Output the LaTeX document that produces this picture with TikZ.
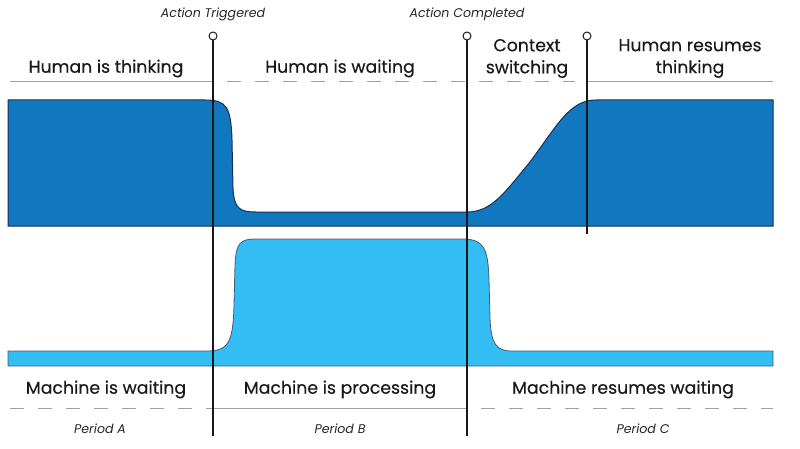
\documentclass[tikz,border=0pt]{standalone}
\usepackage{fontspec}
\setmainfont{Poppins}
\newfontfamily\lblfont{Poppins}[FakeBold=0.3]
\definecolor{darkb}{HTML}{1177BF}
\definecolor{lightb}{HTML}{33BDF2}
\definecolor{edge}{HTML}{1A3050}
\definecolor{guide}{HTML}{A0A0A0}
\begin{document}
\begin{tikzpicture}[x=1pt,y=-1pt,
  lbl/.style={font=\lblfont\fontsize{17.3}{22}\selectfont, text=black!90, align=center, inner sep=0pt},
  evt/.style={font=\fontsize{12.6}{14}\selectfont\itshape, text=black!85, inner sep=0pt},
  per/.style={font=\fontsize{12.6}{14}\selectfont\itshape, text=black!85, inner sep=0pt},
  gsolid/.style={draw=guide, line width=1pt},
  gdash/.style={draw=guide, line width=1pt, dash pattern=on 14pt off 14pt},
  marker/.style={draw=black!90, line width=1.6pt},
  knob/.style={circle, draw=black!90, fill=white, line width=1pt, minimum size=8pt, inner sep=0pt}
]
\useasboundingbox (0,0) rectangle (800,449);
% guide lines
\draw[gsolid] (10,82) -- (213,82);
\draw[gdash] (227,82) -- (575,82);
\draw[gsolid] (587,82) -- (773,82);
\draw[gdash] (10,408) -- (213,408);
\draw[gsolid] (213,408) -- (467,408);
\draw[gdash] (481,408) -- (773,408);
% human curve
\draw[fill=darkb, draw=edge, line width=1pt]
 (8,100) -- (205,100) .. controls (226,100) and (231,106) .. (232,140)
 -- (233,188) .. controls (234,208) and (239,212) .. (256,212)
 -- (467,212) .. controls (492,212) and (505,192) .. (530,162)
 .. controls (558,124) and (570,100) .. (596,100)
 -- (773,100) -- (773,226) -- (8,226) -- cycle;
% machine curve
\draw[fill=lightb, draw=edge!80, line width=0.8pt]
 (8,351) -- (206,351) .. controls (228,351) and (233,344) .. (234,305)
 -- (235,265) .. controls (236,243) and (240,239) .. (256,239)
 -- (462,239) .. controls (484,239) and (488,248) .. (489,280)
 -- (490,318) .. controls (491,344) and (496,351) .. (512,351)
 -- (773,351) -- (773,366) -- (8,366) -- cycle;
% markers
\node[knob] (k1) at (213,36) {};
\node[knob] (k2) at (467,36) {};
\node[knob] (k3) at (587,36) {};
\coordinate (e1) at (213,436);
\coordinate (e2) at (467,436);
\coordinate (e3) at (587,234);
\draw[marker] (k1) -- (e1);
\draw[marker] (k2) -- (e2);
\draw[marker] (k3) -- (e3);
% labels
\node[evt] (t1) at (213,14) {Action Triggered};
\node[evt] (t2) at (467,14) {Action Completed};
\node[lbl] (h1) at (106,68.5) {Human is thinking};
\node[lbl] (h2) at (340,68.5) {Human is waiting};
\node[lbl] (h3) at (527,58.5) {Context\\switching};
\node[lbl] (h4) at (690,58.5) {Human resumes\\thinking};
\node[lbl] (m1) at (106,389.5) {Machine is waiting};
\node[lbl] (m2) at (340,389.5) {Machine is processing};
\node[lbl] (m3) at (623,389.5) {Machine resumes waiting};
\node[per] (p1) at (100,429) {Period A};
\node[per] (p2) at (340,429) {Period B};
\node[per] (p3) at (643,429) {Period C};
\end{tikzpicture}
\end{document}
